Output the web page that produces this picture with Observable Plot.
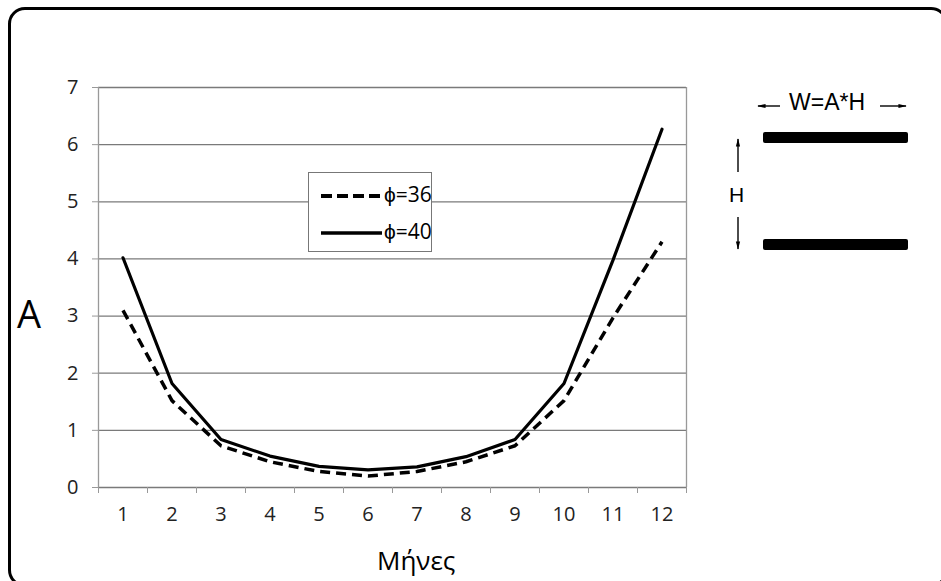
<!DOCTYPE html>
<html>
<head>
<meta charset="utf-8">
<script src="https://cdn.jsdelivr.net/npm/d3@7"></script>
<script src="https://cdn.jsdelivr.net/npm/@observablehq/plot@0.6"></script>
<style>
  html, body { margin: 0; padding: 0; background: #fff; }
  #wrap { position: relative; width: 941px; height: 581px; overflow: hidden; font-family: "Open Sans", "Liberation Sans", sans-serif; }
  #frame { position: absolute; left: 8px; top: 7px; width: 934px; height: 574px; border: 3px solid #000; border-radius: 17px; pointer-events: none; }
  #chart { position: absolute; left: 0; top: 0; }
  .abs { position: absolute; white-space: nowrap; color: #000; }
</style>
</head>
<body>
<div id="wrap">
  <div id="chart"></div>
  <div id="frame"></div>
</div>
<script>
const months = [1, 2, 3, 4, 5, 6, 7, 8, 9, 10, 11, 12];
const phi36 = [3.1, 1.52, 0.73, 0.45, 0.28, 0.2, 0.28, 0.45, 0.73, 1.52, 2.97, 4.3];
const phi40 = [4.02, 1.82, 0.84, 0.55, 0.37, 0.31, 0.36, 0.54, 0.84, 1.82, 3.98, 6.27];
const yTicks = [0, 1, 2, 3, 4, 5, 6, 7];
const seriesNames = ["ϕ=36", "ϕ=40"];
const xLabel = "Μήνες";
const yLabel = "A";
const diagramLabel = "W=A*H";
const diagramH = "H";

const rows36 = months.map((m, i) => ({ m, v: phi36[i] }));
const rows40 = months.map((m, i) => ({ m, v: phi40[i] }));
const boundaries = months.map(m => m - 0.5).concat([months[months.length - 1] + 0.5]);

const grid = "#7a7a7a";
const chart = Plot.plot({
  width: 941,
  height: 581,
  marginLeft: 98,
  marginRight: 255,
  marginTop: 87,
  marginBottom: 94,
  style: { fontFamily: "'Open Sans', 'Liberation Sans', sans-serif", fontSize: "20px", color: "#222", background: "transparent" },
  x: { type: "linear", domain: [0.5, 12.5] },
  y: { domain: [0, 7] },
  marks: [
    Plot.ruleY(yTicks, { stroke: grid, strokeWidth: 1.3 }),
    Plot.ruleX([0.5], { y1: 0, y2: 7, stroke: "#999", strokeWidth: 1.3 }),
    Plot.ruleX([12.5], { y1: 0, y2: 7, stroke: "#999", strokeWidth: 1.3 }),
    Plot.axisY({ ticks: yTicks, tickSize: 6, tickPadding: 14, tickFormat: d => String(d), stroke: "#999", label: null }),
    Plot.axisX({ ticks: boundaries, tickSize: 6, tickFormat: () => "", stroke: "#999", label: null }),
    Plot.axisX({ ticks: months, tickSize: 0, tickPadding: 19, tickFormat: d => String(d), label: null }),
    Plot.line(rows36, { x: "m", y: "v", stroke: "#000", strokeWidth: 3.5, strokeDasharray: "10,6", strokeLinejoin: "miter", strokeLinecap: "butt" }),
    Plot.line(rows40, { x: "m", y: "v", stroke: "#000", strokeWidth: 3.2, strokeLinejoin: "miter" })
  ]
});
chart.querySelectorAll("text").forEach(t => { t.setAttribute("font-size", "20"); t.style.fontSize = "20px"; t.style.fill = "#222"; });
chart.querySelectorAll("g[aria-label$='axis']").forEach(g => { g.setAttribute("font-size", "20"); });
document.getElementById("chart").appendChild(chart);

const wrap = document.getElementById("wrap");
function add(html) { wrap.insertAdjacentHTML("beforeend", html); }

// axis titles
add(`<div class="abs" style="left:17px;top:293px;font-size:38px;line-height:40px;">${yLabel}</div>`);
add(`<div class="abs" style="left:377px;top:545px;font-size:26px;line-height:30px;">${xLabel}</div>`);

// legend
add(`<div class="abs" style="left:308px;top:172px;width:124px;height:80px;background:#fff;border:1.5px solid #777;box-sizing:border-box;">
  <svg width="80" height="79" style="position:absolute;left:10px;top:0">
    <line x1="2" y1="23" x2="63" y2="23" stroke="#000" stroke-width="4" stroke-dasharray="11,5"/>
    <line x1="2" y1="60" x2="63" y2="60" stroke="#000" stroke-width="3.5"/>
  </svg>
  <div class="abs" style="left:75px;top:8px;font-size:21px;line-height:26px;">${seriesNames[0]}</div>
  <div class="abs" style="left:75px;top:45px;font-size:21px;line-height:26px;">${seriesNames[1]}</div>
</div>`);

// right-hand diagram
add(`<svg class="abs" style="left:720px;top:80px" width="221" height="190">
  <defs>
    <marker id="ah" viewBox="0 0 10 10" refX="9" refY="5" markerWidth="7" markerHeight="6" orient="auto-start-reverse">
      <path d="M0,2.5 L10,5 L0,7.5 z" fill="#000"/>
    </marker>
  </defs>
  <line x1="60" y1="26" x2="38" y2="26" stroke="#000" stroke-width="1.4" marker-end="url(#ah)"/>
  <line x1="160" y1="26" x2="186" y2="26" stroke="#000" stroke-width="1.4" marker-end="url(#ah)"/>
  <rect x="43" y="52" width="145" height="11" rx="2" fill="#000"/>
  <rect x="43" y="159" width="145" height="11" rx="2" fill="#000"/>
  <line x1="18" y1="92" x2="18" y2="59" stroke="#000" stroke-width="1.4" marker-end="url(#ah)"/>
  <line x1="18" y1="137" x2="18" y2="169" stroke="#000" stroke-width="1.4" marker-end="url(#ah)"/>
</svg>`);
add(`<div class="abs" style="left:789px;top:88px;font-size:23px;line-height:28px;font-family:'Liberation Sans',sans-serif;">${diagramLabel}</div>`);
add(`<div class="abs" style="left:729px;top:181px;font-size:21px;line-height:28px;font-family:'Liberation Sans',sans-serif;">${diagramH}</div>`);
</script>
</body>
</html>
